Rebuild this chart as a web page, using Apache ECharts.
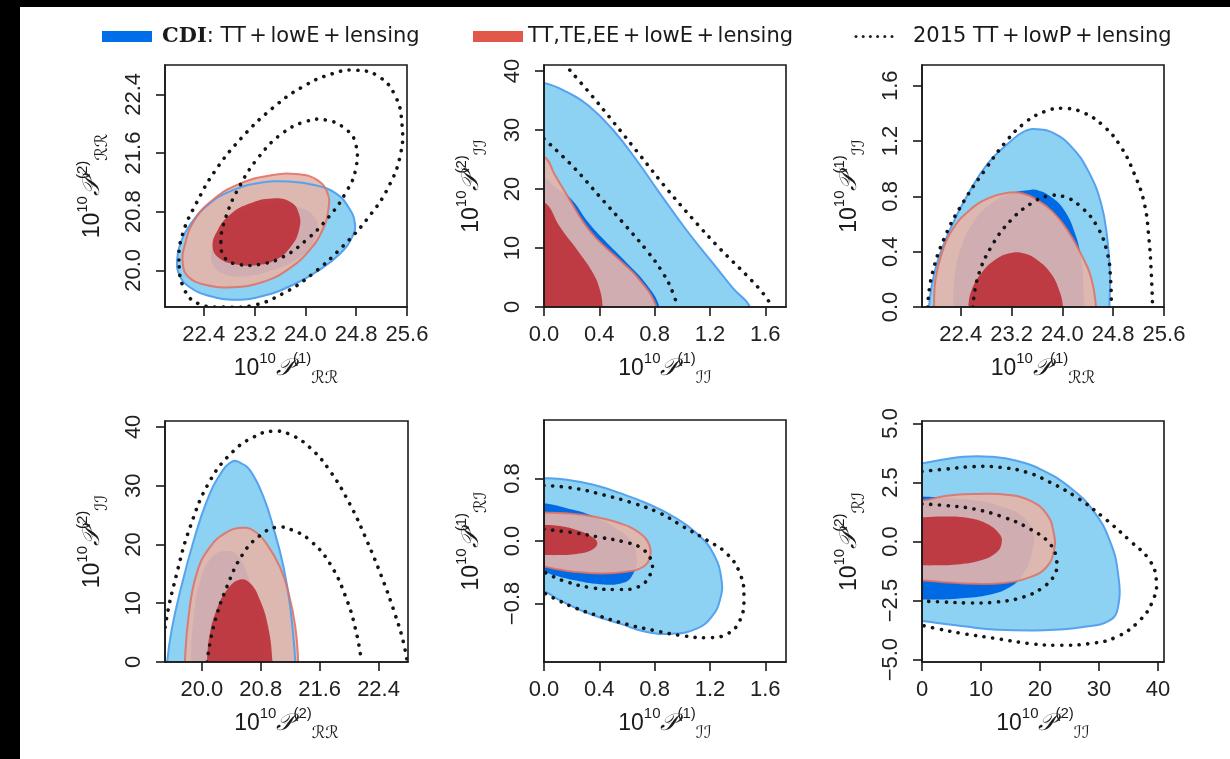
<!DOCTYPE html>
<html>
<head>
<meta charset="utf-8">
<title>CDI contours</title>
<script src="https://cdn.jsdelivr.net/npm/echarts@6/dist/echarts.min.js"></script>
<style>
html, body { margin: 0; padding: 0; background: #fff; overflow: hidden; }
#chart { width: 1230px; height: 759px; }
</style>
</head>
<body>
<div id="chart"></div>
<script>
// legend entries
const seriesNames = ['CDI: TT+lowE+lensing', 'TT,TE,EE+lowE+lensing', '2015 TT+lowP+lensing'];

// axis extents and tick labels
const rangeRR1 = [21.79, 25.6];
const rangeRR2 = [19.5, 22.8];
const rangeII1 = [0, 1.75];
const rangeII2 = [0, 41];
const rangeRI1 = [-1.55, 1.55];
const rangeRI2 = [-5.1, 5.1];
const ticksRR1 = [22.4, 23.2, 24.0, 24.8, 25.6];
const ticksRR2 = [20.0, 20.8, 21.6, 22.4];
const ticksII1 = [0.0, 0.4, 0.8, 1.2, 1.6];
const ticksII2 = [0, 10, 20, 30, 40];
const ticksRI1 = [-0.8, 0.0, 0.8];
const ticksRI2 = [-5.0, -2.5, 0.0, 2.5, 5.0];

// panel 1: P_RR(1) vs P_RR(2)
const rr1rr2_cdi95 = [[21.98,20.14],[22.04,20.39],[22.20,20.64],[22.49,20.91],[22.85,21.09],[23.27,21.19],[23.74,21.21],[24.16,21.16],[24.48,21.05],[24.68,20.86],[24.78,20.64],[24.74,20.46],[24.55,20.23],[24.21,20.00],[23.80,19.80],[23.33,19.65],[22.91,19.60],[22.49,19.65],[22.18,19.77],[22.02,19.93]];
const rr1rr2_cdi68 = [[22.52,20.23],[22.59,20.46],[22.80,20.68],[23.12,20.84],[23.53,20.91],[23.90,20.86],[24.14,20.73],[24.19,20.55],[24.08,20.32],[23.85,20.14],[23.48,20.00],[23.06,19.92],[22.72,19.95],[22.55,20.07]];
const rr1rr2_ee95 = [[22.07,20.09],[22.10,20.34],[22.25,20.68],[22.54,20.96],[22.96,21.18],[23.48,21.30],[23.90,21.31],[24.19,21.23],[24.35,21.05],[24.36,20.82],[24.27,20.55],[24.06,20.27],[23.74,20.02],[23.33,19.84],[22.85,19.77],[22.44,19.80],[22.16,19.91]];
const rr1rr2_ee68 = [[22.54,20.32],[22.62,20.55],[22.83,20.77],[23.12,20.91],[23.48,20.98],[23.77,20.93],[23.90,20.77],[23.90,20.55],[23.77,20.32],[23.53,20.14],[23.22,20.07],[22.91,20.08],[22.65,20.16]];
const rr1rr2_p15_95 = [[22.01,20.14],[22.07,20.50],[22.28,20.91],[22.59,21.37],[23.01,21.82],[23.48,22.21],[23.95,22.50],[24.42,22.68],[24.79,22.73],[25.16,22.64],[25.42,22.37],[25.52,22.00],[25.50,21.59],[25.31,21.14],[25.00,20.73],[24.58,20.32],[24.11,19.95],[23.64,19.68],[23.17,19.52],[22.70,19.50],[22.33,19.54],[22.10,19.73]];
const rr1rr2_p15_68 = [[22.67,20.39],[22.75,20.73],[22.96,21.14],[23.27,21.55],[23.64,21.87],[24.01,22.03],[24.32,22.05],[24.63,21.93],[24.79,21.73],[24.79,21.37],[24.63,21.05],[24.37,20.73],[24.01,20.41],[23.64,20.18],[23.27,20.08],[22.96,20.08],[22.74,20.16]];

// panel 2: P_II(1) vs P_II(2)
const ii1ii2_cdi95 = [[0,37.97],[0.164,36.44],[0.333,33.9],[0.501,29.94],[0.670,24.86],[0.839,19.21],[1.031,13.0],[1.224,7.34],[1.369,3.11],[1.489,0]];
const ii1ii2_cdi68 = [[0,21.75],[0.092,20.06],[0.2,18.2],[0.308,14.7],[0.429,11.5],[0.598,7.5],[0.742,3.8],[0.835,0]];
const ii1ii2_ee95 = [[0,25.42],[0.08,22.32],[0.188,18.08],[0.284,14.41],[0.381,11.58],[0.549,7.91],[0.694,4.52],[0.814,0]];
const ii1ii2_ee68 = [[0,17.8],[0.116,13.56],[0.26,9.04],[0.357,5.65],[0.405,2.82],[0.424,0]];
const ii1ii2_p15_95 = [[0.145,41.24],[0.333,36.16],[0.501,31.36],[0.694,25.71],[0.887,20.06],[1.08,14.8],[1.272,9.89],[1.465,5.37],[1.586,2.26],[1.651,0]];
const ii1ii2_p15_68 = [[0,28.5],[0.212,23.73],[0.405,18.64],[0.598,13.56],[0.742,9.6],[0.863,5.65],[0.935,2.26],[0.964,0]];

// panel 3: P_RR(1) vs P_II(1)
const rr1ii1_cdi95 = [[21.90,0],[21.94,0.145],[22.04,0.338],[22.25,0.58],[22.52,0.82],[22.83,1.04],[23.14,1.18],[23.40,1.27],[23.61,1.285],[23.87,1.256],[24.14,1.16],[24.40,0.99],[24.61,0.749],[24.71,0.483],[24.75,0.242],[24.74,0]];
const rr1ii1_cdi68 = [[22.28,0],[22.31,0.242],[22.41,0.435],[22.62,0.628],[22.88,0.749],[23.19,0.821],[23.46,0.845],[23.61,0.845],[23.82,0.797],[24.03,0.70],[24.20,0.531],[24.30,0.338],[24.33,0.145],[24.34,0]];
const rr1ii1_ee95 = [[21.98,0],[22.0,0.193],[22.10,0.386],[22.28,0.568],[22.54,0.70],[22.83,0.785],[23.14,0.826],[23.38,0.821],[23.61,0.773],[23.85,0.688],[24.08,0.556],[24.29,0.386],[24.45,0.217],[24.53,0]];
const rr1ii1_ee68 = [[22.52,0],[22.57,0.121],[22.72,0.242],[22.93,0.338],[23.19,0.391],[23.40,0.386],[23.61,0.338],[23.82,0.242],[23.95,0.121],[24.01,0]];
const rr1ii1_p15_95 = [[21.88,0],[21.94,0.217],[22.15,0.507],[22.46,0.773],[22.78,0.99],[23.09,1.184],[23.40,1.329],[23.72,1.413],[24.03,1.437],[24.35,1.401],[24.66,1.304],[24.92,1.159],[25.13,0.966],[25.29,0.749],[25.36,0.507],[25.40,0.242],[25.42,0]];
const rr1ii1_p15_68 = [[22.59,0],[22.67,0.217],[22.88,0.435],[23.19,0.628],[23.51,0.749],[23.77,0.802],[24.03,0.797],[24.29,0.725],[24.55,0.58],[24.71,0.386],[24.76,0.193],[24.77,0]];

// panel 4: P_RR(2) vs P_II(2)
const rr2ii2_cdi95 = [[19.53,0],[19.59,5.46],[19.71,12.23],[19.89,20.68],[20.07,27.44],[20.25,31.94],[20.41,34.08],[20.52,33.92],[20.66,32.51],[20.84,28.0],[20.97,22.93],[21.11,16.17],[21.20,9.41],[21.27,0]];
const rr2ii2_cdi68 = [[19.85,0],[19.89,7.72],[19.98,13.92],[20.14,17.86],[20.34,18.87],[20.50,17.86],[20.63,14.48],[20.75,9.97],[20.83,4.9],[20.86,0]];
const rr2ii2_ee95 = [[19.77,0],[19.82,7.72],[19.93,15.04],[20.11,19.55],[20.34,22.08],[20.54,22.82],[20.70,22.37],[20.88,20.11],[21.06,16.17],[21.18,11.66],[21.27,6.03],[21.31,0]];
const rr2ii2_ee68 = [[20.07,0],[20.11,4.9],[20.20,8.85],[20.34,12.23],[20.52,14.03],[20.66,13.35],[20.79,10.54],[20.90,6.03],[20.96,0]];
const rr2ii2_p15_95 = [[19.46,0],[19.51,6.59],[19.66,15.04],[19.84,22.93],[20.11,30.82],[20.43,35.89],[20.70,38.25],[20.95,39.27],[21.20,38.7],[21.47,36.45],[21.74,32.51],[22.01,26.87],[22.24,20.68],[22.46,13.92],[22.62,8.28],[22.73,3.77],[22.79,0]];
const rr2ii2_p15_68 = [[20.07,0],[20.16,6.03],[20.34,12.79],[20.56,18.42],[20.79,21.52],[21.02,22.93],[21.24,22.37],[21.47,20.68],[21.74,16.73],[21.97,10.54],[22.10,4.9],[22.17,0]];

// panel 5: P_II(1) vs P_RI(1)
const ii1ri1_cdi95 = [[0,0.805],[0.164,0.784],[0.357,0.72],[0.549,0.613],[0.742,0.484],[0.935,0.313],[1.104,0.099],[1.224,-0.159],[1.284,-0.501],[1.272,-0.758],[1.212,-0.972],[1.104,-1.123],[0.935,-1.187],[0.742,-1.165],[0.549,-1.058],[0.357,-0.951],[0.212,-0.844],[0.092,-0.737],[0,-0.651]];
const ii1ri1_cdi68 = [[0,0.484],[0.164,0.42],[0.333,0.334],[0.501,0.184],[0.622,0.013],[0.67,-0.201],[0.646,-0.416],[0.573,-0.536],[0.405,-0.553],[0.212,-0.501],[0.067,-0.437],[0,-0.394]];
const ii1ri1_ee95 = [[0,0.364],[0.164,0.356],[0.357,0.313],[0.549,0.227],[0.694,0.099],[0.761,-0.051],[0.766,-0.201],[0.718,-0.33],[0.598,-0.394],[0.405,-0.416],[0.212,-0.394],[0.067,-0.351],[0,-0.33]];
const ii1ri1_ee68 = [[0,0.206],[0.116,0.193],[0.236,0.141],[0.345,0.056],[0.386,-0.03],[0.345,-0.116],[0.236,-0.167],[0.116,-0.18],[0,-0.18]];
const ii1ri1_p15_95 = [[0,0.711],[0.212,0.677],[0.429,0.591],[0.646,0.484],[0.839,0.356],[1.007,0.184],[1.176,0.013],[1.320,-0.159],[1.417,-0.416],[1.446,-0.716],[1.417,-1.015],[1.320,-1.195],[1.176,-1.238],[0.983,-1.208],[0.790,-1.144],[0.598,-1.067],[0.405,-0.964],[0.236,-0.865],[0.092,-0.75],[0,-0.664]];
const ii1ri1_p15_68 = [[0,0.15],[0.212,0.107],[0.405,0.047],[0.573,-0.009],[0.706,-0.094],[0.778,-0.266],[0.766,-0.437],[0.682,-0.587],[0.525,-0.621],[0.333,-0.596],[0.164,-0.523],[0.043,-0.437],[0,-0.394]];

// panel 6: P_II(2) vs P_RI(2)
const ii2ri2_cdi95 = [[0,3.31],[3.1,3.45],[7.04,3.59],[11.54,3.59],[16.05,3.42],[20.55,3.0],[25.06,2.29],[29.0,1.31],[31.81,0.04],[33.22,-1.37],[33.22,-2.77],[31.81,-3.34],[27.31,-3.62],[20.55,-3.76],[12.67,-3.73],[7.04,-3.59],[2.53,-3.45],[0,-3.36]];
const ii2ri2_cdi68 = [[0,1.9],[4.22,1.84],[9.29,1.73],[13.8,1.45],[17.17,1.03],[18.86,0.32],[18.58,-0.52],[17.17,-1.37],[14.92,-1.93],[10.98,-2.28],[5.91,-2.42],[1.41,-2.46],[0,-2.46]];
const ii2ri2_ee95 = [[0,1.73],[4.22,1.94],[9.29,2.01],[14.36,1.98],[18.3,1.73],[21.11,1.17],[22.35,0.32],[22.35,-0.38],[21.11,-1.08],[18.3,-1.51],[13.8,-1.76],[8.73,-1.79],[3.66,-1.72],[0,-1.65]];
const ii2ri2_ee68 = [[0,1.03],[3.66,1.06],[7.6,1.0],[10.98,0.75],[13.12,0.32],[13.51,-0.03],[12.67,-0.45],[9.85,-0.8],[5.91,-0.97],[1.97,-1.01],[0,-1.01]];
const ii2ri2_p15_95 = [[0,2.97],[4.22,3.07],[8.73,3.17],[13.23,3.14],[17.74,2.93],[21.68,2.51],[26.18,1.87],[30.69,1.03],[35.19,0.04],[38.57,-0.8],[39.7,-1.65],[39.13,-2.49],[36.88,-3.34],[32.94,-4.04],[28.43,-4.32],[22.8,-4.39],[18.3,-4.32],[12.67,-4.11],[7.04,-3.9],[2.53,-3.69],[0,-3.55]];
const ii2ri2_p15_68 = [[0,1.59],[4.22,1.52],[8.73,1.38],[13.8,1.03],[18.3,0.53],[21.68,-0.1],[22.8,-0.8],[22.52,-1.37],[20.55,-1.93],[17.17,-2.35],[12.67,-2.56],[8.16,-2.6],[3.66,-2.56],[0,-2.52]];

const FONT = '"Liberation Sans", "DejaVu Sans", sans-serif';
const INK = '#1a1a1a';

const axes = {
  RR1: { range: rangeRR1, ticks: ticksRR1, digits: 1, sup: '(1)', sub: 'ℛℛ' },
  RR2: { range: rangeRR2, ticks: ticksRR2, digits: 1, sup: '(2)', sub: 'ℛℛ' },
  II1: { range: rangeII1, ticks: ticksII1, digits: 1, sup: '(1)', sub: 'ℐℐ' },
  II2: { range: rangeII2, ticks: ticksII2, digits: 0, sup: '(2)', sub: 'ℐℐ' },
  RI1: { range: rangeRI1, ticks: ticksRI1, digits: 1, sup: '(1)', sub: 'ℛℐ' },
  RI2: { range: rangeRI2, ticks: ticksRI2, digits: 1, sup: '(2)', sub: 'ℛℐ' }
};

const panels = [
  { x: 'RR1', y: 'RR2', box: [165, 65, 242, 242], close: 'loop',
    cdi95: rr1rr2_cdi95, cdi68: rr1rr2_cdi68, ee95: rr1rr2_ee95, ee68: rr1rr2_ee68, p95: rr1rr2_p15_95, p68: rr1rr2_p15_68 },
  { x: 'II1', y: 'II2', box: [544, 65, 242, 242], close: 'corner',
    cdi95: ii1ii2_cdi95, cdi68: ii1ii2_cdi68, ee95: ii1ii2_ee95, ee68: ii1ii2_ee68, p95: ii1ii2_p15_95, p68: ii1ii2_p15_68 },
  { x: 'RR1', y: 'II1', box: [922, 65, 242, 242], close: 'bottom',
    cdi95: rr1ii1_cdi95, cdi68: rr1ii1_cdi68, ee95: rr1ii1_ee95, ee68: rr1ii1_ee68, p95: rr1ii1_p15_95, p68: rr1ii1_p15_68 },
  { x: 'RR2', y: 'II2', box: [165, 421, 243, 241], close: 'bottom',
    cdi95: rr2ii2_cdi95, cdi68: rr2ii2_cdi68, ee95: rr2ii2_ee95, ee68: rr2ii2_ee68, p95: rr2ii2_p15_95, p68: rr2ii2_p15_68 },
  { x: 'II1', y: 'RI1', box: [544, 420, 242, 242], close: 'left',
    cdi95: ii1ri1_cdi95, cdi68: ii1ri1_cdi68, ee95: ii1ri1_ee95, ee68: ii1ri1_ee68, p95: ii1ri1_p15_95, p68: ii1ri1_p15_68 },
  { x: 'II2', y: 'RI2', box: [922, 421, 242, 241], close: 'left',
    cdi95: ii2ri2_cdi95, cdi68: ii2ri2_cdi68, ee95: ii2ri2_ee95, ee68: ii2ri2_ee68, p95: ii2ri2_p15_95, p68: ii2ri2_p15_68 }
];

// contours cut by the prior boundary get closed outside the visible box
function closeShape(pts, mode, xr, yr) {
  const px = (xr[1] - xr[0]) * 0.08, py = (yr[1] - yr[0]) * 0.08;
  const a = pts[0], b = pts[pts.length - 1];
  if (mode === 'bottom') return pts.concat([[b[0], yr[0] - py], [a[0], yr[0] - py]]);
  if (mode === 'left') return pts.concat([[xr[0] - px, b[1]], [xr[0] - px, a[1]]]);
  if (mode === 'corner') return pts.concat([[b[0], yr[0] - py], [xr[0] - px, yr[0] - py], [xr[0] - px, a[1]]]);
  return pts;
}

function shapeSeries(name, gi, pts, drawPts, closed, style, z) {
  return {
    type: 'custom', name: name, xAxisIndex: gi, yAxisIndex: gi,
    data: pts, z: z, silent: true, animation: false,
    itemStyle: { color: style.fill || style.stroke },
    renderItem: function (params, api) {
      if (params.dataIndex !== 0) return null;
      const cs = params.coordSys;
      return {
        type: 'group',
        clipPath: { type: 'rect', shape: { x: cs.x, y: cs.y, width: cs.width, height: cs.height } },
        children: [{
          type: closed ? 'polygon' : 'polyline',
          shape: { points: drawPts.map(p => api.coord(p)), smooth: 0.45 },
          style: style
        }]
      };
    }
  };
}

const blueLight = { fill: '#8dd1f3' };
const blueDark = { fill: '#0069e4' };
const redLight = { fill: 'rgba(229,181,170,0.9)' };
const redDark = { fill: 'rgba(190,52,60,0.94)' };
const blueEdge = { fill: null, stroke: '#55a3ee', lineWidth: 2 };
const redEdge = { fill: null, stroke: 'rgba(224,110,98,0.85)', lineWidth: 2 };
const dotted = { fill: null, stroke: '#151515', lineWidth: 3.6, lineDash: [0.1, 8.6], lineCap: 'round' };

const grids = [], xAxes = [], yAxes = [], series = [];

function axisName(k) {
  const a = axes[k];
  return '{n|10}{e|10}{p|𝒫}{e|' + a.sup + '}{s|' + a.sub + '}';
}
const nameRich = {
  n: { fontSize: 23, fontFamily: FONT, color: INK, lineHeight: 36, verticalAlign: 'middle' },
  e: { fontSize: 15, fontFamily: FONT, color: INK, lineHeight: 20, verticalAlign: 'top' },
  p: { fontSize: 24, fontFamily: '"DejaVu Serif", serif', fontStyle: 'italic', color: INK, lineHeight: 36, verticalAlign: 'middle' },
  s: { fontSize: 17, fontFamily: '"DejaVu Sans", sans-serif', color: INK, lineHeight: 20, verticalAlign: 'bottom' }
};

function axisOpt(k, gi, isY) {
  const a = axes[k];
  return {
    gridIndex: gi, type: 'value', min: a.range[0], max: a.range[1], z: 10,
    axisLine: { show: true, onZero: false, lineStyle: { color: INK, width: 1.6 } },
    axisTick: { show: true, length: 9, customValues: a.ticks, lineStyle: { color: INK, width: 1.6 } },
    axisLabel: {
      customValues: a.ticks, fontSize: 22, fontFamily: FONT, color: '#222',
      margin: isY ? 20 : 17, rotate: isY ? 90 : 0,
      formatter: v => Number(v).toFixed(a.digits).replace('-', '\u2212')
    },
    splitLine: { show: false },
    name: axisName(k), nameLocation: 'middle', nameGap: isY ? 54 : 44,
    nameTextStyle: { rich: nameRich }
  };
}

panels.forEach((p, gi) => {
  grids.push({ left: p.box[0], top: p.box[1], width: p.box[2], height: p.box[3],
    show: true, borderColor: INK, borderWidth: 1.6, backgroundColor: 'transparent', z: 10 });
  xAxes.push(axisOpt(p.x, gi, false));
  yAxes.push(axisOpt(p.y, gi, true));
  const xr = axes[p.x].range, yr = axes[p.y].range;
  const loop = p.close === 'loop';
  const c = pts => closeShape(pts, p.close, xr, yr);
  series.push(shapeSeries(seriesNames[0], gi, p.cdi95, c(p.cdi95), true, blueLight, 2));
  series.push(shapeSeries(seriesNames[0], gi, p.cdi68, c(p.cdi68), true, blueDark, 3));
  series.push(shapeSeries(seriesNames[1], gi, p.ee95, c(p.ee95), true, redLight, 4));
  series.push(shapeSeries(seriesNames[1], gi, p.ee68, c(p.ee68), true, redDark, 5));
  series.push(shapeSeries(seriesNames[0], gi, p.cdi95, c(p.cdi95), true, blueEdge, 6));
  series.push(shapeSeries(seriesNames[1], gi, p.ee95, c(p.ee95), true, redEdge, 6));
  series.push(shapeSeries(seriesNames[2], gi, p.p95, p.p95, loop, dotted, 7));
  series.push(shapeSeries(seriesNames[2], gi, p.p68, p.p68, loop, dotted, 7));
});

const dotsIcon = 'image://data:image/svg+xml;charset=utf-8,' + encodeURIComponent(
  '<svg xmlns="http://www.w3.org/2000/svg" width="42" height="11"><g fill="#222">' +
  [3, 10.2, 17.4, 24.6, 31.8, 39].map(x => '<circle cx="' + x + '" cy="5.5" r="1.5"/>').join('') +
  '</g></svg>');

// math-style spacing round the plus signs
const spaced = s => s.replace(/\+/g, '\u2006+\u2006');
const legendText = {
  fontSize: 21, fontFamily: '"DejaVu Sans", sans-serif', color: INK,
  rich: { b: { fontSize: 21, fontFamily: '"DejaVu Serif", serif', fontWeight: 'bold', color: INK } }
};
function legendAt(left, width, pad, entry) {
  return {
    left: left, top: 21, itemWidth: width, itemHeight: 11, selectedMode: false,
    data: [entry],
    formatter: name => name === seriesNames[0] ? '{b|CDI}: ' + spaced('TT+lowE+lensing') : spaced(name),
    textStyle: Object.assign({ padding: [0, 0, 0, pad] }, legendText)
  };
}

const chart = echarts.init(document.getElementById('chart'));
chart.setOption({
  backgroundColor: '#fff',
  animation: false,
  legend: [
    legendAt(97, 50, 5, { name: seriesNames[0], icon: 'rect', itemStyle: { color: '#006ee8' } }),
    legendAt(468, 50, 0, { name: seriesNames[1], icon: 'rect', itemStyle: { color: '#e3564a' } }),
    legendAt(848, 42, 13, { name: seriesNames[2], icon: dotsIcon })
  ],
  graphic: [
    { type: 'rect', left: 0, top: 0, z: 100, shape: { width: 20, height: 759 }, style: { fill: '#000' } },
    { type: 'rect', left: 0, top: 0, z: 100, shape: { width: 1230, height: 7 }, style: { fill: '#000' } }
  ],
  grid: grids,
  xAxis: xAxes,
  yAxis: yAxes,
  series: series
});
</script>
</body>
</html>
